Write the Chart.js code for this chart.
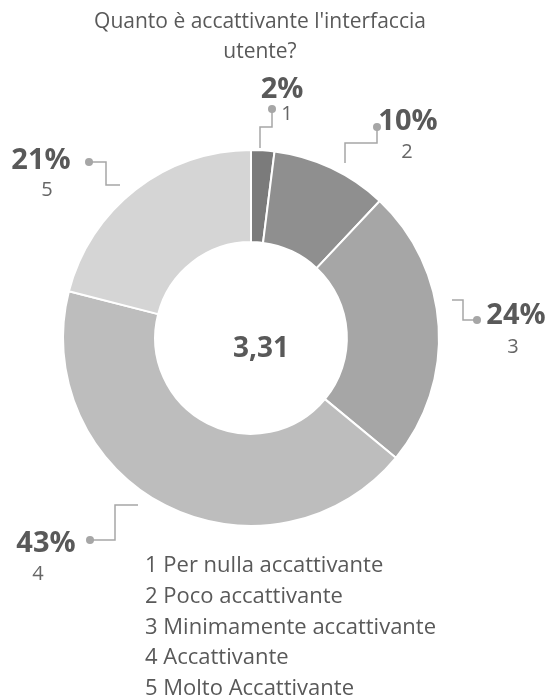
<!DOCTYPE html>
<html lang="it">
<head>
<meta charset="utf-8">
<title>Quanto è accattivante l'interfaccia utente?</title>
<script src="https://cdn.jsdelivr.net/npm/chart.js@4.4.1/dist/chart.umd.min.js"></script>
<style>
  html, body { margin: 0; padding: 0; background: #ffffff; }
  #wrap { position: relative; width: 549px; height: 700px; }
</style>
</head>
<body>
<div id="wrap"><canvas id="interfacciaChart" width="549" height="700"></canvas></div>
<script>
"use strict";

// Survey answers (share of respondents, %)
const categories = ['1', '2', '3', '4', '5'];
const categoryNames = [
    'Per nulla accattivante',
    'Poco accattivante',
    'Minimamente accattivante',
    'Accattivante',
    'Molto Accattivante'
];
const shares = [2, 10, 24, 43, 21];
const averageText = '3,31';
const titleLines = ["Quanto è accattivante l'interfaccia", 'utente?'];

const sliceColors = ['#7b7b7b', '#8f8f8f', '#a6a6a6', '#bdbdbd', '#d5d5d5'];

// Callout layout: text anchors and leader line paths (dot first, arc end last)
const callouts = [
    { pct: [282, 90],  num: [287, 114], path: [[272, 109], [272, 127], [260, 127], [260, 148]] },
    { pct: [408, 122], num: [407, 152], path: [[377, 127], [377, 143], [345, 143], [345, 163]] },
    { pct: [516, 316], num: [513, 347], path: [[477, 320], [463, 320], [463, 300], [452, 300]] },
    { pct: [46, 544],  num: [38, 574],  path: [[90, 540], [115, 540], [115, 505], [138, 505]] },
    { pct: [41, 161],  num: [47, 190],  path: [[89, 162], [106, 162], [106, 185], [120, 185]] }
];

var InterfacciaChart = function () {
    var FONT = '"Open Sans", "Liberation Sans", sans-serif';
    var TEXT = '#595959';
    var LEADER = '#a6a6a6';

    // Draws title, center value, callouts and the numbered list
    var annotations = {
        id: 'annotations',
        afterDraw: function (chart) {
            var ctx = chart.ctx;
            var arc = chart.getDatasetMeta(0).data[0];
            ctx.save();
            ctx.textAlign = 'center';
            ctx.textBaseline = 'middle';

            // title
            ctx.fillStyle = TEXT;
            ctx.font = '21px ' + FONT;
            titleLines.forEach(function (line, i) {
                ctx.fillText(line, 260, 22 + i * 30);
            });

            // center value
            ctx.font = 'bold 28px ' + FONT;
            ctx.fillText(averageText, arc.x + 10, arc.y + 11);

            // callouts
            callouts.forEach(function (c, i) {
                ctx.strokeStyle = LEADER;
                ctx.lineWidth = 1.5;
                ctx.beginPath();
                c.path.forEach(function (p, k) {
                    if (k === 0) ctx.moveTo(p[0], p[1]); else ctx.lineTo(p[0], p[1]);
                });
                ctx.stroke();
                ctx.fillStyle = LEADER;
                ctx.beginPath();
                ctx.arc(c.path[0][0], c.path[0][1], 4, 0, Math.PI * 2);
                ctx.fill();

                ctx.fillStyle = TEXT;
                ctx.font = 'bold 29px ' + FONT;
                ctx.fillText(shares[i] + '%', c.pct[0], c.pct[1]);
                ctx.fillStyle = '#666666';
                ctx.font = '20px ' + FONT;
                ctx.fillText(categories[i], c.num[0], c.num[1]);
            });

            // numbered list below the ring
            ctx.textAlign = 'left';
            ctx.fillStyle = TEXT;
            ctx.font = '22px ' + FONT;
            categories.forEach(function (cat, i) {
                ctx.fillText(cat + ' ' + categoryNames[i], 145, 566 + i * 30.7);
            });
            ctx.restore();
        }
    };

    var initChart = function () {
        var element = document.getElementById('interfacciaChart');
        if (!element) {
            return;
        }

        var config = {
            type: 'doughnut',
            data: {
                labels: categoryNames,
                datasets: [{
                    data: shares,
                    backgroundColor: sliceColors,
                    borderColor: '#ffffff',
                    borderWidth: 2,
                    hoverOffset: 0
                }]
            },
            options: {
                responsive: false,
                animation: false,
                cutout: '51%',
                layout: {
                    padding: { left: 62, right: 109, top: 149, bottom: 173 }
                },
                plugins: {
                    legend: { display: false },
                    title: { display: false },
                    tooltip: { enabled: false }
                }
            },
            plugins: [annotations]
        };

        new Chart(element.getContext('2d'), config);
    };

    return {
        init: function () {
            initChart();
        }
    };
}();

document.addEventListener('DOMContentLoaded', function () {
    InterfacciaChart.init();
});
</script>
</body>
</html>
